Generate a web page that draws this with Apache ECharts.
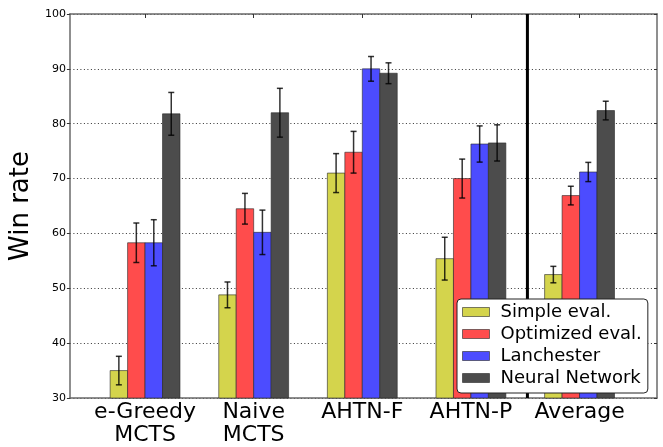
<!DOCTYPE html>
<html>
<head>
<meta charset="utf-8">
<script src="https://cdn.jsdelivr.net/npm/echarts@6/dist/echarts.min.js"></script>
<style>
html,body{margin:0;padding:0;background:#fff;}
#chart{width:663px;height:447px;}
</style>
</head>
<body>
<div id="chart"></div>
<script>
const categories = ['e-Greedy\nMCTS', 'Naive\nMCTS', 'AHTN-F', 'AHTN-P', 'Average'];
const seriesNames = ['Simple eval.', 'Optimized eval.', 'Lanchester', 'Neural Network'];
const simpleVals = [35.0, 48.8, 71.0, 55.4, 52.5];
const simpleErr = [2.6, 2.35, 3.55, 3.9, 1.5];
const optimizedVals = [58.3, 64.5, 74.8, 70.0, 66.9];
const optimizedErr = [3.6, 2.8, 3.8, 3.55, 1.7];
const lanchesterVals = [58.3, 60.2, 90.0, 76.3, 71.2];
const lanchesterErr = [4.2, 4.05, 2.25, 3.3, 1.75];
const neuralVals = [81.8, 82.0, 89.2, 76.5, 82.4];
const neuralErr = [3.9, 4.45, 1.9, 3.3, 1.7];
const yTicks = [30, 40, 50, 60, 70, 80, 90, 100];
const separatorAt = 3.52;

const colors = ['#d4d44c', '#ff4c4c', '#4c4cff', '#4c4c4c'];
const allVals = [simpleVals, optimizedVals, lanchesterVals, neuralVals];
const allErr = [simpleErr, optimizedErr, lanchesterErr, neuralErr];
const BW = 0.1608;
const YMIN = yTicks[0], YMAX = yTicks[yTicks.length - 1];
const FONT = 'DejaVu Sans';
const frameColor = '#6a6a6a';

const series = [];
allVals.forEach((vals, s) => {
  series.push({
    name: seriesNames[s],
    type: 'custom',
    z: 2,
    itemStyle: { color: colors[s], borderColor: 'rgba(40,40,40,0.6)', borderWidth: 1 },
    encode: { x: 0, y: 1 },
    data: vals.map((v, i) => [i, v]),
    renderItem: (params, api) => {
      const i = api.value(0), v = api.value(1);
      const x0 = i + (s - 2) * BW;
      const p0 = api.coord([x0, v]);
      const p1 = api.coord([x0 + BW, YMIN]);
      return {
        type: 'rect',
        shape: { x: p0[0], y: p0[1], width: p1[0] - p0[0], height: p1[1] - p0[1] },
        style: { fill: colors[s], stroke: 'rgba(40,40,40,0.6)', lineWidth: 1 }
      };
    }
  });
});
allVals.forEach((vals, s) => {
  series.push({
    name: seriesNames[s] + ' err',
    type: 'custom',
    z: 3,
    silent: true,
    encode: { x: 0, y: 1 },
    data: vals.map((v, i) => [i, v, allErr[s][i]]),
    renderItem: (params, api) => {
      const i = api.value(0), v = api.value(1), e = api.value(2);
      const xc = i + (s - 1.5) * BW;
      const top = api.coord([xc, v + e]);
      const bot = api.coord([xc, v - e]);
      const st = { stroke: 'rgba(0,0,0,0.8)', lineWidth: 1.5 };
      const cw = 3;
      return {
        type: 'group',
        children: [
          { type: 'line', shape: { x1: top[0], y1: top[1], x2: bot[0], y2: bot[1] }, style: st },
          { type: 'line', shape: { x1: top[0] - cw, y1: top[1], x2: top[0] + cw, y2: top[1] }, style: st },
          { type: 'line', shape: { x1: bot[0] - cw, y1: bot[1], x2: bot[0] + cw, y2: bot[1] }, style: st }
        ]
      };
    }
  });
});
series.push({
  name: 'separator',
  type: 'custom',
  z: 4,
  silent: true,
  data: [[separatorAt]],
  encode: { x: 0 },
  renderItem: (params, api) => {
    const x = api.value(0);
    const a = api.coord([x, YMAX]);
    const b = api.coord([x, YMIN]);
    return { type: 'line', shape: { x1: a[0], y1: a[1], x2: b[0], y2: b[1] }, style: { stroke: '#000', lineWidth: 3 } };
  }
});

const chart = echarts.init(document.getElementById('chart'), null, { renderer: 'canvas' });
chart.setOption({
  animation: false,
  backgroundColor: '#fff',
  textStyle: { fontFamily: FONT },
  grid: { left: 66, right: 6, top: 14, bottom: 48, containLabel: false },
  legend: {
    orient: 'vertical',
    left: 457,
    top: 299,
    width: 194,
    padding: [4, 6, 6, 5],
    itemGap: 4,
    itemWidth: 27,
    itemHeight: 9,
    backgroundColor: '#fff',
    borderColor: '#222',
    borderWidth: 1,
    borderRadius: 4,
    z: 10,
    selectedMode: false,
    textStyle: { fontFamily: FONT, fontSize: 18, color: '#000', lineHeight: 18, padding: [0, 0, 0, 6] },
    data: seriesNames.map((n, s) => ({ name: n, icon: 'rect', itemStyle: { color: colors[s], borderColor: 'rgba(40,40,40,0.6)', borderWidth: 1 } }))
  },
  xAxis: [
    {
      type: 'value', min: -0.692, max: 4.713, position: 'bottom',
      axisLine: { show: true, onZero: false, lineStyle: { color: frameColor, width: 1.5 } },
      axisTick: { show: false },
      splitLine: { show: false },
      axisLabel: {
        customValues: [0, 1, 2, 3, 4],
        formatter: v => categories[Math.round(v)],
        fontFamily: FONT, fontSize: 22, lineHeight: 23, color: '#000', margin: 3
      }
    },
    {
      type: 'value', min: -0.692, max: 4.713, position: 'top',
      axisLine: { show: true, onZero: false, lineStyle: { color: frameColor, width: 1.5 } },
      axisTick: { show: true, inside: true, length: 4, customValues: [0, 1, 2, 3, 4], lineStyle: { color: '#333' } },
      axisLabel: { show: false },
      splitLine: { show: false }
    }
  ],
  yAxis: [
    {
      type: 'value', min: YMIN, max: YMAX, interval: 10, position: 'left',
      name: 'Win rate', nameLocation: 'middle', nameGap: 28, nameRotate: 90,
      nameTextStyle: { fontFamily: FONT, fontSize: 26, color: '#000' },
      axisLine: { show: true, onZero: false, lineStyle: { color: frameColor, width: 1.5 } },
      axisTick: { show: true, length: 3, lineStyle: { color: '#333' } },
      axisLabel: { fontFamily: FONT, fontSize: 11, color: '#000', margin: 4 },
      splitLine: { show: true, lineStyle: { color: '#333', width: 1, type: [1, 2.5] } }
    },
    {
      type: 'value', min: YMIN, max: YMAX, interval: 10, position: 'right',
      axisLine: { show: true, onZero: false, lineStyle: { color: frameColor, width: 1.5 } },
      axisTick: { show: true, inside: true, length: 3, lineStyle: { color: '#333' } },
      axisLabel: { show: false },
      splitLine: { show: false }
    }
  ],
  series: series
});
</script>
</body>
</html>
